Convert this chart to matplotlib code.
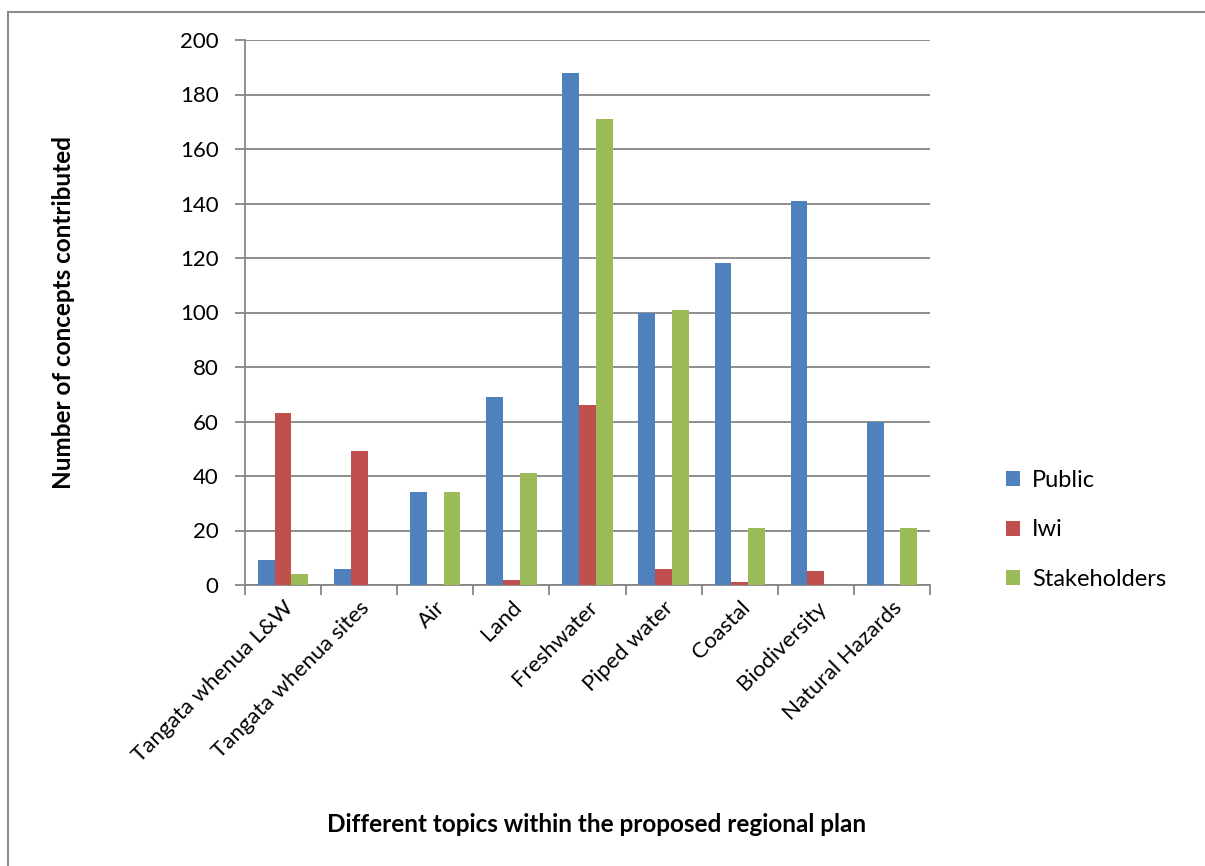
import numpy as np
import matplotlib
matplotlib.use('Agg')
import matplotlib.pyplot as plt
from matplotlib.patches import Rectangle

# ─── DATA ───
topics = ['Tangata whenua L&W', 'Tangata whenua sites', 'Air', 'Land', 'Freshwater',
          'Piped water', 'Coastal', 'Biodiversity', 'Natural Hazards']
public = [9, 6, 34, 69, 188, 100, 118, 141, 60]
iwi = [63, 49, 0, 2, 66, 6, 1, 5, 0]
stakeholders = [4, 0, 34, 41, 171, 101, 21, 0, 21]
y_ticks = list(range(0, 201, 20))

series = [('Public', public, '#4F81BD'),
          ('Iwi', iwi, '#C0504D'),
          ('Stakeholders', stakeholders, '#9BBB59')]

plt.rcParams['font.family'] = ['Lato', 'DejaVu Sans']
GRID = '#868686'

W, H = 1205, 866
fig = plt.figure(figsize=(W / 100, H / 100), dpi=100)
ax = fig.add_axes([245 / W, 1 - 585 / H, (930 - 245) / W, (585 - 40) / H])

# outer chart border (goes off the right and bottom edges)
fig.patches.append(Rectangle((8 / W, -0.05), 1.2, 1 - 12 / H + 0.05,
                             transform=fig.transFigure, fill=False,
                             edgecolor='#8C8C8C', lw=1.5, zorder=0))

x = np.arange(len(topics))
bw = 0.22
for i, (name, vals, col) in enumerate(series):
    ax.bar(x + (i - 1) * bw, vals, bw, color=col, label=name, zorder=3,
           edgecolor='none')

ax.set_xlim(-0.5, len(topics) - 0.5)
ax.set_ylim(0, 200)
ax.set_yticks(y_ticks)
ax.yaxis.grid(True, color=GRID, lw=1.3, zorder=0)
ax.set_axisbelow(True)
for s in ['top', 'right']:
    ax.spines[s].set_visible(False)
ax.spines['left'].set_color(GRID)
ax.spines['bottom'].set_color(GRID)
ax.spines['left'].set_linewidth(1.3)
ax.spines['bottom'].set_linewidth(1.3)

ax.set_xticks(np.arange(len(topics) + 1) - 0.5, minor=False)
ax.set_xticklabels([])
ax.tick_params(axis='x', which='major', length=7, color=GRID, width=1.3)
ax.set_xticks(x, minor=True)
ax.set_xticklabels(topics, minor=True, rotation=45, ha='right', va='top',
                   rotation_mode='anchor', fontsize=16)
ax.tick_params(axis='x', which='minor', length=0, pad=9)
ax.tick_params(axis='y', length=7, color=GRID, width=1.3, labelsize=16, pad=12)

ax.set_ylabel('Number of concepts contributed', fontsize=17.5, fontweight='bold',
              labelpad=0)
ax.yaxis.set_label_coords((75 - 245) / 685, 0.5)
fig.text(597 / W, 1 - 825 / H, 'Different topics within the proposed regional plan',
         ha='center', va='center', fontsize=17.5, fontweight='bold')

ax.legend(loc='center left', bbox_to_anchor=(985 / W, 1 - 530 / H),
          bbox_transform=fig.transFigure, frameon=False, fontsize=17,
          handlelength=0.6, handleheight=0.6, handletextpad=0.5,
          labelspacing=1.2)

fig.savefig('out.png', dpi=100, facecolor='white')
